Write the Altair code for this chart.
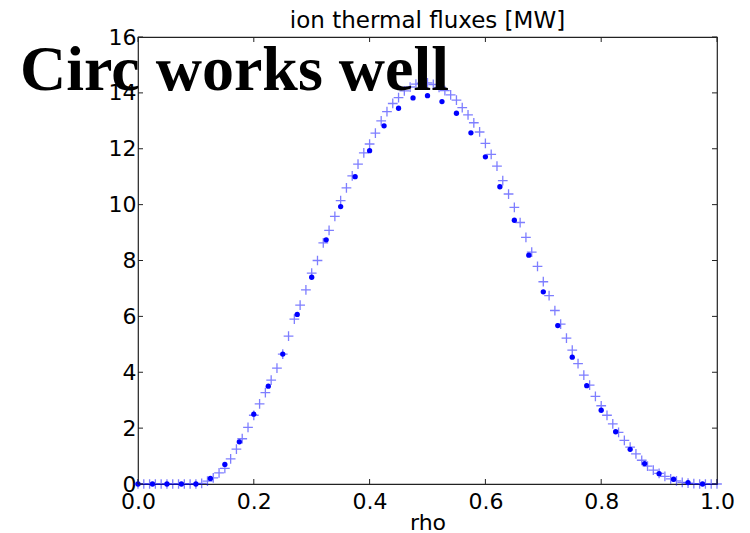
import altair as alt
import pandas as pd

# ---- data ----
rho_plus = [round(0.01 * i, 2) for i in range(101)]
flux_plus = [0, 0, 0, 0, 0, 0, 0, 0, 0, 0,
             0, 0.02, 0.10, 0.22, 0.40, 0.56, 0.90, 1.25, 1.62, 2.03,
             2.46, 2.87, 3.27, 3.72, 4.15, 4.65, 5.29, 5.90, 6.40, 6.95,
             7.55, 8.00, 8.63, 9.08, 9.58, 10.14, 10.60, 11.03, 11.45, 11.85,
             12.17, 12.56, 13.00, 13.33, 13.62, 13.83, 14.07, 14.21, 14.31, 14.35,
             14.36, 14.30, 14.20, 14.08, 13.93, 13.74, 13.47, 13.21, 12.93, 12.60,
             12.19, 11.80, 11.38, 10.86, 10.38, 9.90, 9.36, 8.83, 8.30, 7.79,
             7.24, 6.74, 6.21, 5.72, 5.22, 4.79, 4.31, 3.90, 3.54, 3.14,
             2.80, 2.46, 2.15, 1.85, 1.56, 1.32, 1.08, 0.85, 0.64, 0.50,
             0.38, 0.27, 0.18, 0.11, 0.06, 0.03, 0.01, 0, 0, 0, 0]

rho_dot = [round(0.025 * i, 3) for i in range(40)]
flux_dot = [0, 0, 0, 0, 0, 0.20, 0.70, 1.51, 2.50, 3.50,
            4.65, 6.07, 7.40, 8.74, 9.93, 11.00, 11.93, 12.82, 13.45, 13.82,
            13.90, 13.69, 13.27, 12.57, 11.71, 10.64, 9.44, 8.19, 6.88, 5.67,
            4.54, 3.52, 2.64, 1.87, 1.24, 0.73, 0.37, 0.17, 0.05, 0]

x_ticks = [0.0, 0.2, 0.4, 0.6, 0.8, 1.0]
y_ticks = [0, 2, 4, 6, 8, 10, 12, 14, 16]

title_text = "ion thermal fluxes [MW]"
x_title = "rho"
overlay_text = "Circ works well"

W, H = 579, 447
FONT = "DejaVu Sans"

df_plus = pd.DataFrame({"rho": rho_plus, "flux": flux_plus})
df_dot = pd.DataFrame({"rho": rho_dot, "flux": flux_dot})
df_xt = pd.DataFrame({"rho": x_ticks})
df_yt = pd.DataFrame({"flux": y_ticks})

xscale = alt.Scale(domain=[0, 1], nice=False, zero=False)
yscale = alt.Scale(domain=[0, 16], nice=False, zero=False)

x_axis = alt.Axis(values=x_ticks, format=".1f", title=x_title, labelFont=FONT,
                  labelFontSize=22, labelColor="black", labelPadding=7,
                  titleFont=FONT, titleFontSize=22, titleFontWeight="normal",
                  titleColor="black", titleY=45, titleBaseline="alphabetic",
                  ticks=False, tickSize=0, domain=False, grid=False,
                  labelFlush=False, labelOverlap=False)
y_axis = alt.Axis(values=y_ticks, format="d", title=None, labelFont=FONT,
                  labelFontSize=22, labelColor="black", labelPadding=2,
                  ticks=False, tickSize=0, domain=False, grid=False,
                  labelFlush=False, labelOverlap=False)

dots = alt.Chart(df_dot).mark_point(
    shape="circle", filled=True, color="#0000ff", size=28, opacity=1
).encode(
    x=alt.X("rho:Q", scale=xscale, axis=x_axis),
    y=alt.Y("flux:Q", scale=yscale, axis=y_axis),
)

plus = alt.Chart(df_plus).mark_point(
    shape="M-1,0L1,0M0,-1L0,1", filled=False, color="#0000ff",
    strokeWidth=1.3, size=95, opacity=0.5
).encode(
    x=alt.X("rho:Q", scale=xscale, axis=x_axis),
    y=alt.Y("flux:Q", scale=yscale, axis=y_axis),
)

tick_color = "#222222"
xt_bottom = alt.Chart(df_xt).mark_rule(color=tick_color, strokeWidth=1).encode(
    x=alt.X("rho:Q", scale=xscale, axis=x_axis), y=alt.value(H), y2=alt.value(H - 5))
xt_top = alt.Chart(df_xt).mark_rule(color=tick_color, strokeWidth=1).encode(
    x=alt.X("rho:Q", scale=xscale, axis=x_axis), y=alt.value(0), y2=alt.value(5))
yt_left = alt.Chart(df_yt).mark_rule(color=tick_color, strokeWidth=1).encode(
    y=alt.Y("flux:Q", scale=yscale, axis=y_axis), x=alt.value(0), x2=alt.value(5))
yt_right = alt.Chart(df_yt).mark_rule(color=tick_color, strokeWidth=1).encode(
    y=alt.Y("flux:Q", scale=yscale, axis=y_axis), x=alt.value(W - 5), x2=alt.value(W))

title_mark = alt.Chart(pd.DataFrame({"t": [title_text]})).mark_text(
    font=FONT, fontSize=23, color="black", align="center", baseline="alphabetic"
).encode(text="t:N", x=alt.value(W / 2), y=alt.value(-9))

overlay = alt.Chart(pd.DataFrame({"t": [overlay_text]})).mark_text(
    font="Liberation Serif", fontWeight="bold", fontSize=64, color="black",
    align="left", baseline="alphabetic"
).encode(text="t:N", x=alt.value(-118), y=alt.value(53))

chart = alt.layer(dots, plus, xt_bottom, xt_top, yt_left, yt_right,
                  title_mark, overlay).properties(
    width=W, height=H,
    background="white",
    view=alt.ViewBackground(stroke="#222222", strokeWidth=1.2),
    autosize=alt.AutoSizeParams(type="none"),
    padding={"left": 138, "top": 37, "right": 33, "bottom": 49},
).configure_view(stroke="#222222", strokeWidth=1.2)

chart.save("out.html", embed_options={"renderer": "svg", "actions": False})
